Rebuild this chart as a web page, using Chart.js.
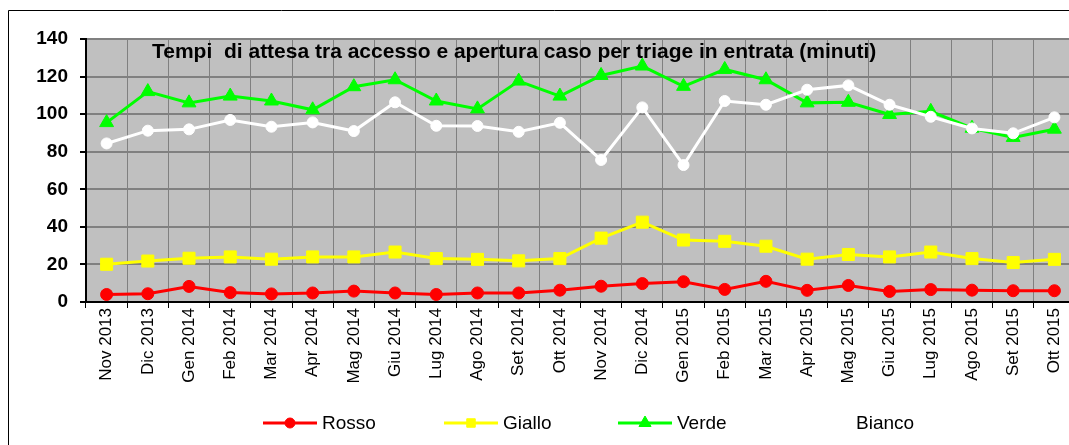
<!DOCTYPE html>
<html>
<head>
<meta charset="utf-8">
<script src="https://cdn.jsdelivr.net/npm/chart.js@4"></script>
<style>
html, body { margin: 0; padding: 0; background: #fff; overflow: hidden; }
#wrap { width: 1100px; height: 445px; }
</style>
</head>
<body>
<div id="wrap"><canvas id="attesaChart" width="1100" height="445"></canvas></div>
<script>
// dati (minuti)
const mesi = ['Nov 2013', 'Dic 2013', 'Gen 2014', 'Feb 2014', 'Mar 2014', 'Apr 2014', 'Mag 2014', 'Giu 2014',
    'Lug 2014', 'Ago 2014', 'Set 2014', 'Ott 2014', 'Nov 2014', 'Dic 2014', 'Gen 2015', 'Feb 2015',
    'Mar 2015', 'Apr 2015', 'Mag 2015', 'Giu 2015', 'Lug 2015', 'Ago 2015', 'Set 2015', 'Ott 2015'];
const rosso  = [4.0, 4.4, 8.3, 5.0, 4.3, 4.8, 5.8, 4.8, 4.0, 4.8, 4.8, 6.3, 8.4, 9.8, 10.8, 6.7, 11.0, 6.2, 8.8, 5.6, 6.6, 6.3, 6.0, 6.0];
const giallo = [20.1, 21.8, 23.3, 24.0, 22.8, 24.0, 24.0, 26.6, 23.1, 22.7, 21.9, 23.1, 34.0, 42.5, 33.0, 32.3, 29.7, 22.8, 25.3, 24.0, 26.6, 23.1, 21.0, 22.7];
const verde  = [95.5, 112.0, 106.0, 109.6, 107.0, 102.3, 114.6, 118.3, 107.0, 102.8, 117.6, 109.6, 120.6, 125.6, 114.8, 123.8, 118.3, 106.0, 106.3, 99.8, 101.5, 92.5, 87.6, 92.0];
const bianco = [84.4, 91.2, 91.9, 96.9, 93.3, 95.6, 91.0, 106.3, 93.8, 93.7, 90.6, 95.4, 75.6, 103.6, 72.9, 107.0, 105.0, 113.0, 115.3, 105.0, 98.6, 92.4, 89.8, 98.3];
const yTicks = [0, 20, 40, 60, 80, 100, 120, 140];
const serieNomi = ['Rosso', 'Giallo', 'Verde', 'Bianco'];

const titolo = 'Tempi  di attesa tra accesso e apertura caso per triage in entrata (minuti)';
const fontFam = '"Liberation Sans", Arial, sans-serif';
const legendX = [263, 444, 618, 797];
const legendR = [5, 6, 7, 5];

const sfondoPlot = {
    id: 'sfondoPlot',
    beforeDraw(chart) {
        const { ctx, chartArea } = chart;
        ctx.save();
        ctx.fillStyle = '#C0C0C0';
        ctx.fillRect(chartArea.left, chartArea.top, chartArea.right - chartArea.left, chartArea.bottom - chartArea.top);
        // cornice esterna
        ctx.strokeStyle = '#000';
        ctx.lineWidth = 1;
        ctx.beginPath();
        ctx.moveTo(8.5, 450);
        ctx.lineTo(8.5, 10.5);
        ctx.lineTo(1100, 10.5);
        ctx.stroke();
        ctx.restore();
    },
    afterDatasetsDraw(chart) {
        const ctx = chart.ctx;
        ctx.save();
        ctx.font = 'bold 21px ' + fontFam;
        ctx.fillStyle = '#000';
        ctx.textAlign = 'left';
        ctx.textBaseline = 'middle';
        ctx.fillText(titolo, 152, 52);
        ctx.restore();
    }
};

const legendaSotto = {
    id: 'legendaSotto',
    afterDraw(chart) {
        const ctx = chart.ctx;
        const y = 423;
        chart.data.datasets.forEach((ds, i) => {
            const x0 = legendX[i];
            ctx.save();
            ctx.strokeStyle = ds.borderColor;
            ctx.fillStyle = ds.backgroundColor;
            ctx.lineWidth = 3;
            ctx.beginPath();
            ctx.moveTo(x0, y);
            ctx.lineTo(x0 + 54, y);
            ctx.stroke();
            ctx.lineWidth = 1;
            Chart.helpers.drawPoint(ctx, { pointStyle: ds.pointStyle, radius: legendR[i], borderWidth: 1, rotation: 0 }, x0 + 27, y);
            ctx.fillStyle = '#000';
            ctx.font = '19px ' + fontFam;
            ctx.textAlign = 'left';
            ctx.textBaseline = 'middle';
            ctx.fillText(ds.label, x0 + 59, y + 1);
            ctx.restore();
        });
    }
};

const attesaChart = new Chart(document.getElementById('attesaChart').getContext('2d'), {
    type: 'line',
    data: {
        labels: mesi,
        datasets: [
            { label: serieNomi[0], data: rosso, borderColor: '#FF0000', backgroundColor: '#FF0000',
              pointStyle: 'circle', pointRadius: 6, borderWidth: 3, pointBorderWidth: 1, order: 4 },
            { label: serieNomi[1], data: giallo, borderColor: '#FFFF00', backgroundColor: '#FFFF00',
              pointStyle: 'rect', pointRadius: 8.5, borderWidth: 3, pointBorderWidth: 1, order: 3 },
            { label: serieNomi[2], data: verde, borderColor: '#00FF00', backgroundColor: '#00FF00',
              pointStyle: 'triangle', pointRadius: 8, borderWidth: 3, pointBorderWidth: 1, order: 2 },
            { label: serieNomi[3], data: bianco, borderColor: '#FFFFFF', backgroundColor: '#FFFFFF',
              pointStyle: 'circle', pointRadius: 5.5, borderWidth: 3, pointBorderWidth: 1, order: 1 }
        ]
    },
    options: {
        responsive: false,
        animation: false,
        layout: { padding: { left: 0, top: 39, right: 25, bottom: 60 } },
        elements: { line: { tension: 0 } },
        scales: {
            x: {
                offset: true,
                grid: { offset: true, color: '#808080', lineWidth: 1, tickColor: '#000', tickLength: 6 },
                border: { color: '#000', width: 2 },
                ticks: {
                    autoSkip: false, minRotation: 90, maxRotation: 90, padding: 0,
                    color: '#000', font: { family: fontFam, size: 17 }
                },
                afterFit: (scale) => { scale.height = 83; }
            },
            y: {
                min: yTicks[0],
                max: yTicks[yTicks.length - 1],
                afterBuildTicks: (scale) => { scale.ticks = yTicks.map(v => ({ value: v })); },
                grid: { color: '#808080', lineWidth: 2, tickColor: '#000', tickLength: 6 },
                border: { color: '#000', width: 2 },
                ticks: { padding: 12, color: '#000', font: { family: fontFam, size: 19, weight: 'bold' } },
                afterFit: (scale) => { scale.width = 86; }
            }
        },
        plugins: {
            legend: { display: false },
            title: { display: false },
            tooltip: { enabled: false }
        }
    },
    plugins: [sfondoPlot, legendaSotto]
});
</script>
</body>
</html>
